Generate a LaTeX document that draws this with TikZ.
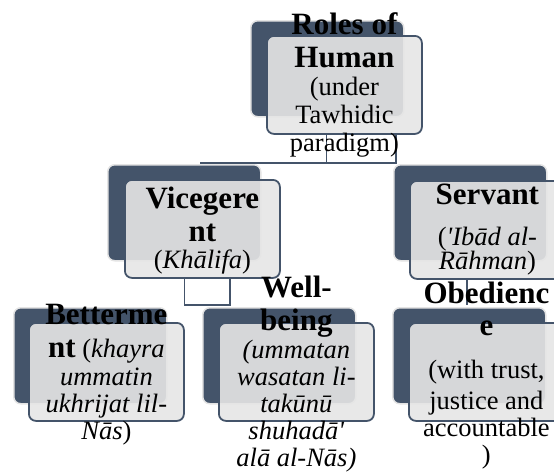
\documentclass[tikz,border=0pt]{standalone}
\usepackage{fontspec}
\setmainfont{Liberation Serif}
\definecolor{boxdark}{HTML}{44546A}
\definecolor{boxlight}{HTML}{E6E6E6}
\definecolor{boxrim}{HTML}{E4E4E4}
\newcommand\boldline[1]{{\fontsize{31}{28}\selectfont\bfseries #1}}
\newcommand\tightlines{\lineskiplimit=-100pt\relax\lineskip=0pt\relax}
\tikzset{
  backbox/.style={draw=boxrim, line width=1.5pt, fill=boxdark, rounded corners=7pt,
    minimum width=153pt, minimum height=96pt, inner sep=0pt, anchor=north west},
  frontbox/.style={draw=boxdark, line width=1.8pt, fill=boxlight, fill opacity=0.9,
    rounded corners=7pt, minimum width=155pt, minimum height=98pt, inner sep=0pt, anchor=north west},
  conn/.style={draw=boxdark, line width=1.8pt},
  lbl/.style={align=center, font={\fontsize{26.5}{27.5}\selectfont\tightlines},
    text=black, inner sep=0pt}
}
\begin{document}
\begin{tikzpicture}[x=1pt, y=-1pt]
\useasboundingbox (0,0) rectangle (554,472);
\clip (0,0) rectangle (554,472);
% junction coordinates
\coordinate (ja) at (326.5,163);
\coordinate (jb) at (396,163);
\coordinate (jc) at (200,163);
\coordinate (jd) at (184.5,305);
\coordinate (je) at (230,305);
\coordinate (jf) at (467,305);
% front-box positions, used for the connectors
\node[frontbox, draw=none, fill=none] (topF0) at (266,35) {};
\node[frontbox, draw=none, fill=none] (vicF0) at (124,179) {};
\node[frontbox, draw=none, fill=none] (serF0) at (409,180) {};
% connectors
\draw[conn] (topF0.south -| ja) -- (ja);
\draw[conn] (topF0.south -| jb) -- (jb) -- (jc);
\draw[conn] (vicF0.south -| jd) -- (jd) -- (je) -- (vicF0.south -| je);
\draw[conn] (serF0.south -| jf) -- (jf);
% back boxes
\node[backbox] (topB) at (250,20) {};
\node[backbox] (vicB) at (107,164) {};
\node[backbox] (serB) at (393,164) {};
\node[backbox] (betB) at (13,307) {};
\node[backbox] (welB) at (202,307) {};
\node[backbox] (obeB) at (392,307) {};
% front boxes
\node[frontbox] (topF) at (266,35) {};
\node[frontbox] (vicF) at (124,179) {};
\node[frontbox] (serF) at (409,180) {};
\node[frontbox] (betF) at (28,322) {};
\node[frontbox] (welF) at (218,322) {};
\node[frontbox] (obeF) at (408,322) {};
% texts (a negative yshift moves a text down)
\node[lbl] (topT) at (topF.center) {\boldline{Roles of}\\[5.5pt]\boldline{Human}\\[1pt](under\\Tawhidic\\[1pt]paradigm)};
\node[lbl] (vicT) at ([yshift=-2pt]vicF.center) {\boldline{Vicegere}\\[5.5pt]\boldline{nt}\\[-0.5pt](\textit{Khālifa})};
\node[lbl] (serT) at (serF.center) {\boldline{Servant}\\[13pt](\textit{\textquotesingle Ibād al-}\\[-3pt]\textit{Rāhman})};
\node[lbl] (betT) at ([yshift=-3pt]betF.center) {\boldline{Betterme}\\[5.5pt]\boldline{nt} (\textit{khayra}\\[0.5pt]\textit{ummatin}\\\textit{ukhrijat lil-}\\[-0.5pt]\textit{Nās})};
\node[lbl] (welT) at ([yshift=-2.5pt]welF.center) {\boldline{Well-}\\[5.5pt]\boldline{being}\\[0.5pt]\textit{(ummatan}\\[-0.5pt]\textit{wasatan li-}\\[-0.5pt]\textit{takūnū}\\[-0.5pt]\textit{shuhadā\textquotesingle}\\[-0.5pt]\textit{alā al-Nās)}};
\node[lbl] (obeT) at ([yshift=-3.5pt]obeF.center) {\boldline{Obedienc}\\[4.5pt]\boldline{e}\\[15.5pt](with trust,\\[3.5pt]justice and\\accountable\\[-1pt])};
\end{tikzpicture}
\end{document}
